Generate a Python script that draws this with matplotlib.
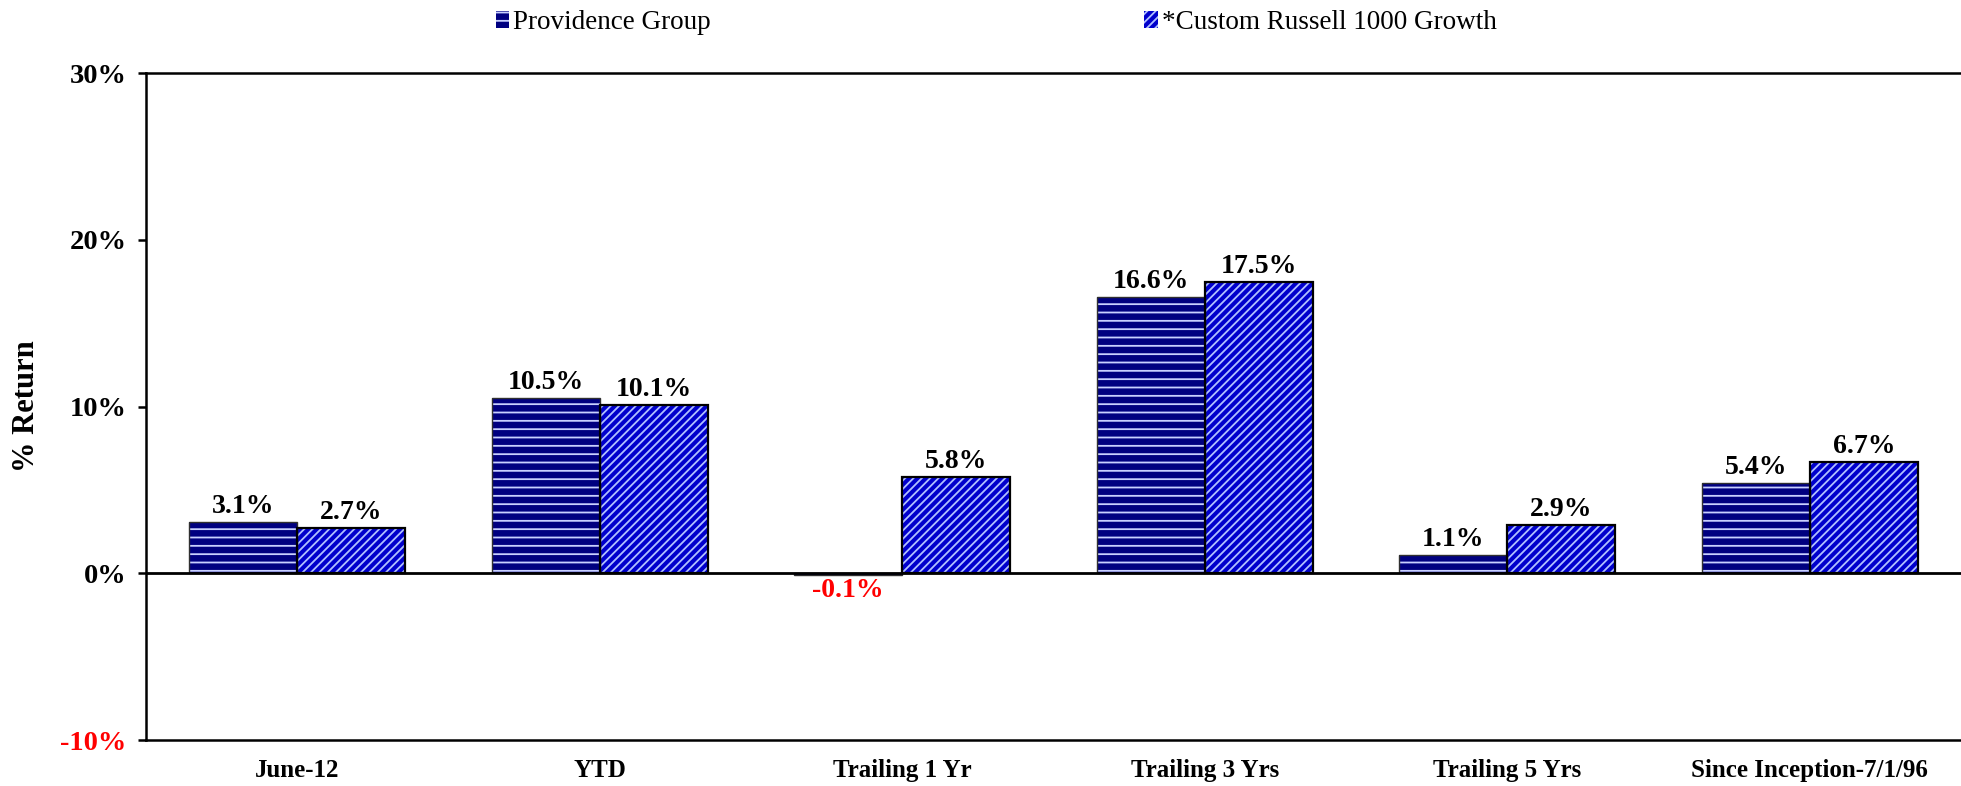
import matplotlib.pyplot as plt
import numpy as np
from matplotlib.patches import Patch

categories = ['June-12', 'YTD', 'Trailing 1 Yr', 'Trailing 3 Yrs',
              'Trailing 5 Yrs', 'Since Inception-7/1/96']
providence = [3.1, 10.5, -0.1, 16.6, 1.1, 5.4]
custom_r1000g = [2.7, 10.1, 5.8, 17.5, 2.9, 6.7]
series_names = ['Providence Group', '*Custom Russell 1000 Growth']
yticks = [-10, 0, 10, 20, 30]

plt.rcParams['font.family'] = ['Liberation Serif', 'DejaVu Serif']
plt.rcParams['hatch.linewidth'] = 1.3

fig = plt.figure(figsize=(19.61, 7.86), dpi=100)
ax = fig.add_axes([0.0745, 0.0585, 0.9255, 0.8485])

x = np.arange(len(categories))
w = 0.357

faces = ['#000080', '#0000cc']
hatch_cols = ['#c8d0ff', '#b0c0ff']
hatches = ['--', '////']
edges = ['#303030', 'black']

for i, vals in enumerate([providence, custom_r1000g]):
    pos = x - w / 2 if i == 0 else x + w / 2
    ax.bar(pos, vals, w, color=faces[i], edgecolor=hatch_cols[i],
           hatch=hatches[i], linewidth=0, zorder=2)
    ax.bar(pos, vals, w, fill=False, edgecolor=edges[i],
           linewidth=1.6 if i else 1.0, zorder=3)
    for p, v in zip(pos, vals):
        if v >= 0:
            ax.annotate(f'{v:.1f}%', (p, v), xytext=(0, 2), textcoords='offset points',
                        ha='center', va='bottom', fontsize=20, fontweight='bold')
        else:
            ax.annotate(f'{v:.1f}%', (p, v), xytext=(0, -2), textcoords='offset points',
                        ha='center', va='top', fontsize=20, fontweight='bold', color='red')

ax.axhline(0, color='black', linewidth=2, zorder=4)
ax.set_xlim(-0.5, len(categories) - 0.5)
ax.set_ylim(-10, 30)
ax.set_yticks(yticks)
ax.set_yticklabels([f'{t}%' for t in yticks], fontsize=20.5, fontweight='bold')
ax.get_yticklabels()[0].set_color('red')
ax.set_xticks(x)
ax.set_xticklabels(categories, fontsize=18, fontweight='bold')
ax.tick_params(axis='x', length=0, pad=14)
ax.tick_params(axis='y', length=6, width=1.8, pad=8)
ax.set_ylabel('% Return', fontsize=22, fontweight='bold', labelpad=14)

ax.spines['right'].set_visible(False)
for s in ['left', 'top', 'bottom']:
    ax.spines[s].set_linewidth(1.8)

handles = [Patch(facecolor=faces[i], edgecolor=hatch_cols[i], hatch=hatches[i], linewidth=0)
           for i in range(2)]
fig.legend(handles, series_names, loc='upper center', bbox_to_anchor=(0.508, 1.018),
           ncol=2, frameon=False, fontsize=19.5, handlelength=0.5, handleheight=0.6,
           handletextpad=0.15, columnspacing=16)

fig.savefig('out.png', dpi=100)
